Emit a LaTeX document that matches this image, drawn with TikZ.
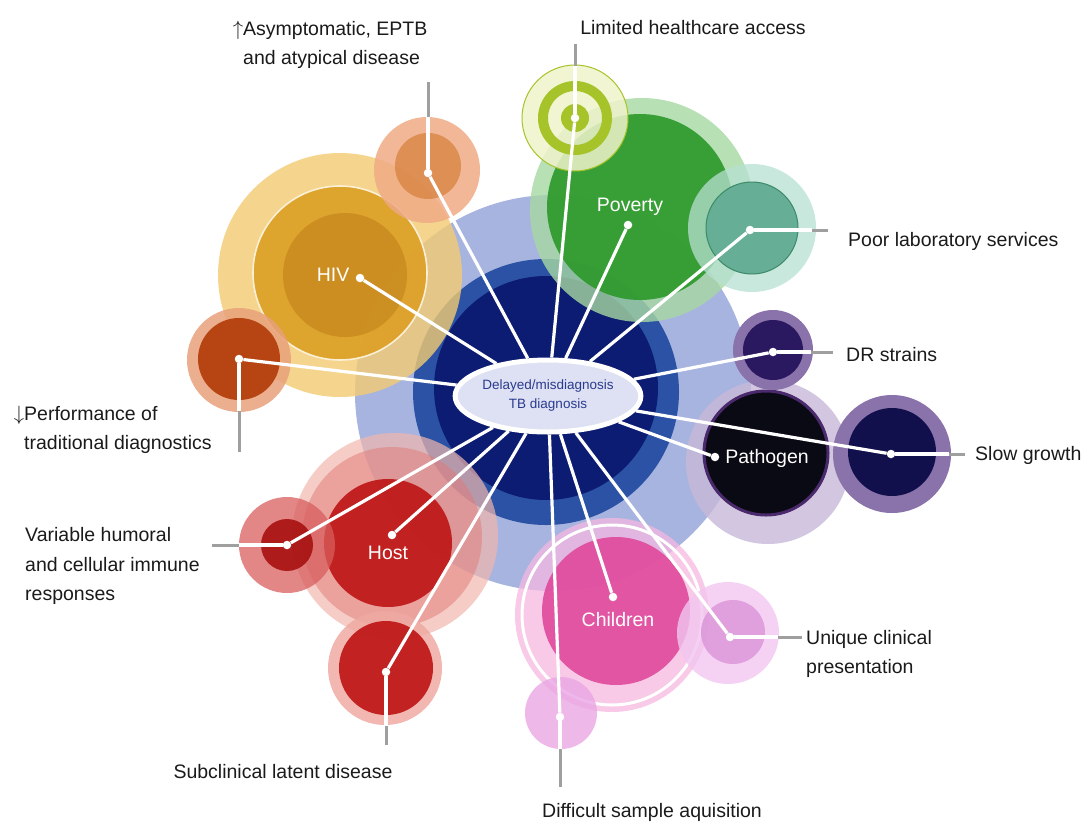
\documentclass[tikz,border=0pt]{standalone}
\usepackage{fontspec}
\setmainfont{Liberation Sans}
\usetikzlibrary{shapes.geometric,calc}

% core
\definecolor{corepale}{HTML}{A8B4E0}
\definecolor{coremid}{HTML}{2B52A4}
\definecolor{coredark}{HTML}{0C1C72}
\definecolor{hubfill}{HTML}{DDE1F3}
\definecolor{hubtext}{HTML}{2A3A8E}
% HIV
\definecolor{hivpale}{HTML}{F2CB72}
\definecolor{hivmain}{HTML}{DDA22A}
\definecolor{hivdeep}{HTML}{C88A1E}
\definecolor{orpale}{HTML}{EEAA84}
\definecolor{ordeep}{HTML}{D7813E}
\definecolor{brpale}{HTML}{E8A07A}
\definecolor{brdeep}{HTML}{B4400E}
% poverty
\definecolor{grpale}{HTML}{A6D8A2}
\definecolor{grmain}{HTML}{2E9A2C}
\definecolor{limpale}{HTML}{EEF3CA}
\definecolor{limring}{HTML}{A6C42A}
\definecolor{tealpale}{HTML}{B6E0D2}
\definecolor{tealmain}{HTML}{66AE96}
\definecolor{tealedge}{HTML}{3C8A68}
% pathogen
\definecolor{purpale}{HTML}{C8B8D8}
\definecolor{purrim}{HTML}{4A2A6C}
\definecolor{purblack}{HTML}{0A0A14}
\definecolor{drpale}{HTML}{8A72AA}
\definecolor{drdeep}{HTML}{2A1860}
\definecolor{slowdeep}{HTML}{12104C}
% host
\definecolor{redpale}{HTML}{F2B6AE}
\definecolor{redmid}{HTML}{E07A76}
\definecolor{redmain}{HTML}{C01A1A}
\definecolor{vhpale}{HTML}{D85E5E}
\definecolor{vhdeep}{HTML}{A81010}
\definecolor{scpale}{HTML}{EEAAA2}
% children
\definecolor{pkpale}{HTML}{F5B8E0}
\definecolor{pkmain}{HTML}{E0469A}
\definecolor{uqpale}{HTML}{F2C6F0}
\definecolor{uqmain}{HTML}{D890D6}
\definecolor{dfpale}{HTML}{EAA6E4}
\definecolor{ink}{HTML}{1A1A1A}

\begin{document}
\begin{tikzpicture}[x=1pt,y=-1pt,
    spoke/.style={white,line width=3.2pt},
    leader/.style={gray!75,line width=3pt},
    dot/.style={circle,fill=white,inner sep=0pt,minimum size=8.5pt},
    lbl/.style={text=ink,font=\fontsize{19.5}{29.5}\selectfont,inner sep=0pt},
    tag/.style={text=white,font=\fontsize{19.5}{23}\selectfont,inner sep=0pt},
    hub/.style={ellipse,draw=white,line width=5pt,fill=hubfill,text=hubtext,
      minimum width=167pt,minimum height=72pt,inner sep=0pt,align=center,
      font=\fontsize{13.5}{19}\selectfont}]
\useasboundingbox (0,0) rectangle (1092,828);

% blue core
\fill[corepale] (553,393) circle (198);
\fill[coremid] (546,392) circle (133);
\fill[coredark] (546,388) circle (112);

% HIV group
\fill[hivpale,opacity=.8] (340,275) circle (122);
\fill[hivmain,opacity=.95] (340,273) circle (87);
\draw[white!70!hivpale,line width=1.6pt] (340,273) circle (87);
\fill[hivdeep,opacity=.8] (345,275) circle (62);
\fill[orpale,opacity=.85] (427,170) circle (53);
\fill[ordeep,opacity=.75] (428,166) circle (33);
\fill[brpale,opacity=.85] (239,360) circle (52);
\fill[brdeep,opacity=.95] (239,359) circle (41);

% poverty group
\fill[grpale,opacity=.8] (642,210) circle (112);
\fill[grmain,opacity=.92] (640,207) circle (93);
\fill[limpale,opacity=.85] (575,118) circle (53);
\draw[limring,line width=1pt] (575,118) circle (53);
\draw[limring,line width=10pt] (575,118) circle (32);
\fill[limring] (575,118) circle (14);
\fill[tealpale,opacity=.75] (752,228) circle (64);
\fill[tealmain] (752,228) circle (46);
\draw[tealedge,line width=1pt] (752,228) circle (46);

% pathogen group
\fill[purpale,opacity=.8] (768,462) circle (82);
\fill[purblack] (766,453) circle (63);
\draw[purrim,line width=3pt] (766,453) circle (62);
\fill[drpale] (773,350) circle (40);
\fill[drdeep] (773,350) circle (30);
\fill[drpale] (892,454) circle (59);
\fill[slowdeep] (892,452) circle (44);

% host group
\fill[redpale,opacity=.7] (395,536) circle (103);
\fill[redmid,opacity=.5] (392,537) circle (90);
\fill[redmain,opacity=.95] (388,543) circle (64);
\fill[vhpale,opacity=.75] (287,545) circle (48);
\fill[vhdeep,opacity=.9] (287,545) circle (26);
\fill[scpale,opacity=.85] (385,668) circle (57);
\fill[redmain,opacity=.95] (386,668) circle (47);

% children group
\fill[pkpale,opacity=.75] (612,615) circle (97);
\draw[white,line width=3pt] (612,615) circle (90);
\fill[pkmain,opacity=.88] (616,611) circle (74);
\fill[uqpale,opacity=.8] (728,633) circle (51);
\fill[uqmain,opacity=.75] (733,632) circle (32);
\fill[dfpale,opacity=.8] (561,713) circle (36);

% hub and end points
\node[hub] (hub) at (548,396) {Delayed/misdiagnosis\\TB diagnosis};
\node[dot] (hivdot) at (360,278) {};
\node[dot] (asymdot) at (428,173) {};
\node[dot] (perfdot) at (239,359) {};
\node[dot] (limdot) at (575,118) {};
\node[dot] (povdot) at (628,225) {};
\node[dot] (labdot) at (750,230) {};
\node[dot] (drdot) at (773,352) {};
\node[dot] (slowdot) at (891,454) {};
\node[dot] (pathdot) at (715,457) {};
\node[dot] (uqdot) at (730,637) {};
\node[dot] (childdot) at (613,597) {};
\node[dot] (diffdot) at (560,717) {};
\node[dot] (subdot) at (386,672) {};
\node[dot] (hostdot) at (392,535) {};
\node[dot] (vhdot) at (287,545) {};

\foreach \p in {hivdot,asymdot,perfdot,limdot,povdot,labdot,drdot,slowdot,
    pathdot,uqdot,childdot,diffdot,subdot,hostdot,vhdot}
  \draw[spoke] (hub) -- (\p);

% leaders out to the labels
\coordinate (asymend) at (428,82);
\coordinate (limend) at (575,44);
\coordinate (perfend) at (239,452);
\coordinate (labend) at (828,230);
\coordinate (drend) at (833,352);
\coordinate (slowend) at (965,454);
\coordinate (uqend) at (802,637);
\coordinate (diffend) at (560,787);
\coordinate (subend) at (386,745);
\coordinate (vhend) at (212,545);
\draw[leader] (asymdot) -- (asymend);
\draw[leader] (limdot) -- (limend);
\draw[leader] (perfdot) -- (perfend);
\draw[leader] (labdot) -- (labend);
\draw[leader] (drdot) -- (drend);
\draw[leader] (slowdot) -- (slowend);
\draw[leader] (uqdot) -- (uqend);
\draw[leader] (diffdot) -- (diffend);
\draw[leader] (subdot) -- (subend);
\draw[leader] (vhdot) -- (vhend);
\draw[spoke] (asymdot) -- ($(asymdot)!56pt!(asymend)$);
\draw[spoke] (limdot) -- ($(limdot)!52pt!(limend)$);
\draw[spoke] (perfdot) -- ($(perfdot)!52pt!(perfend)$);
\draw[spoke] (labdot) -- ($(labdot)!62pt!(labend)$);
\draw[spoke] (drdot) -- ($(drdot)!38pt!(drend)$);
\draw[spoke] (slowdot) -- ($(slowdot)!58pt!(slowend)$);
\draw[spoke] (uqdot) -- ($(uqdot)!48pt!(uqend)$);
\draw[spoke] (diffdot) -- ($(diffdot)!32pt!(diffend)$);
\draw[spoke] (subdot) -- ($(subdot)!54pt!(subend)$);
\draw[spoke] (vhdot) -- ($(vhdot)!48pt!(vhend)$);

% group names
\node[tag] (hivtag) at (333,275) {HIV};
\node[tag] (povtag) at (630,207) {Poverty};
\node[tag] (pathtag) at (767,458) {Pathogen};
\node[tag] (childtag) at (618,620) {Children};
\node[tag] (hosttag) at (388,553) {Host};

% outer labels
\node[lbl,anchor=west,align=left] (asymlbl) at (243,45)
  {\llap{$\uparrow$}Asymptomatic, EPTB\\and atypical disease};
\node[lbl] (limlbl) at (693,28) {Limited healthcare access};
\node[lbl,anchor=west] (lablbl) at (848,241) {Poor laboratory services};
\node[lbl,anchor=west] (drlbl) at (846,355) {DR strains};
\node[lbl,anchor=west] (slowlbl) at (975,455) {Slow growth};
\node[lbl,anchor=west,align=left] (uqlbl) at (806,654)
  {Unique clinical\\presentation};
\node[lbl] (difflbl) at (652,812) {Difficult sample aquisition};
\node[lbl] (sublbl) at (283,772) {Subclinical latent disease};
\node[lbl,anchor=west,align=left] (vhlbl) at (25,566)
  {Variable humoral\\and cellular immune\\responses};
\node[lbl,anchor=west,align=left] (perflbl) at (24,430)
  {\llap{$\downarrow$}Performance of\\traditional diagnostics};
\end{tikzpicture}
\end{document}
